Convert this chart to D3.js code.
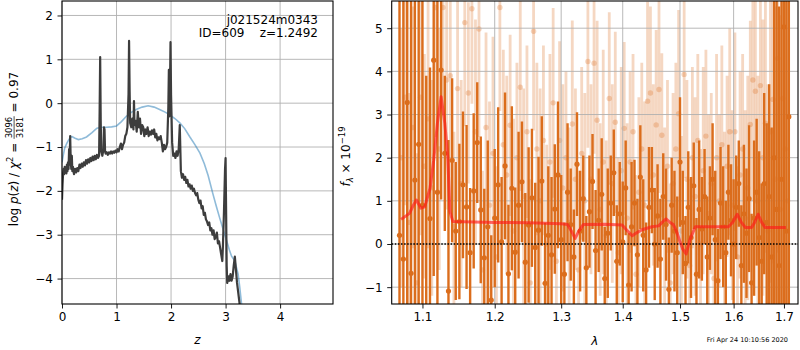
<!DOCTYPE html>
<html><head><meta charset="utf-8">
<script src="https://cdn.jsdelivr.net/npm/d3@7"></script>
<style>
body{margin:0;background:#fff}
svg text{font-family:"DejaVu Sans",sans-serif;white-space:pre}
</style>
</head><body>
<svg id="c" width="800" height="350"></svg>
<script>
// ---------------- DATA ----------------
// Left panel: log p(z)
const pzZ = [0.00,0.01,0.02,0.03,0.04,0.05,0.06,0.07,0.08,0.09,0.10,0.11,0.12,0.13,0.14,0.15,0.16,0.17,0.18,0.19,0.20,
0.22,0.24,0.26,0.28,0.30,0.32,0.34,0.36,0.38,0.40,0.42,0.44,0.46,0.48,0.50,0.52,0.54,0.56,0.58,0.60,0.62,0.64,0.66,0.68,
0.69,0.70,0.71,0.72,0.74,0.76,0.77,0.78,0.79,0.80,0.82,0.84,0.86,0.88,0.90,0.92,0.94,0.96,0.98,1.00,1.02,1.04,1.06,1.08,
1.10,1.12,1.14,1.16,1.18,1.20,1.22,1.23,1.24,1.25,1.27,1.29,1.31,1.32,1.33,1.35,1.37,1.39,1.41,1.43,1.45,1.47,1.49,1.51,
1.53,1.55,1.57,1.59,1.61,1.63,1.65,1.67,1.69,1.71,1.73,1.75,1.77,1.79,1.81,1.83,1.85,1.87,1.89,1.91,1.93,1.95,1.96,1.97,
1.98,1.99,2.00,2.02,2.04,2.06,2.08,2.10,2.12,2.14,2.16,2.18,2.20,2.22,2.24,2.26,2.28,2.30,2.32,2.34,2.36,2.38,2.40,2.42,
2.44,2.46,2.48,2.50,2.52,2.54,2.56,2.58,2.60,2.62,2.64,2.66,2.68,2.70,2.72,2.74,2.76,2.78,2.80,2.82,2.84,2.86,2.88,2.90,
2.92,2.94,2.95,2.96,2.97,2.99,3.00,3.01,3.02,3.03,3.05,3.07,3.09,3.11,3.13,3.15,3.17,3.19,3.21,3.23,3.25,3.27];
const pzLog = [-2.20,-1.85,-1.60,-1.50,-1.62,-1.45,-1.58,-1.52,-1.60,-1.40,-1.55,-1.35,-1.50,-1.05,-1.40,-0.75,-1.30,-1.50,-1.20,-1.55,-1.45,
-1.62,-1.50,-1.58,-1.48,-1.55,-1.40,-1.48,-1.38,-1.45,-1.35,-1.42,-1.30,-1.38,-1.28,-1.35,-1.25,-1.32,-1.22,-1.30,-1.20,-1.28,-1.18,-1.25,-1.20,
-0.20,1.05,-0.40,-1.10,-1.20,-1.05,-0.55,-0.60,-1.10,-1.15,-1.12,-1.18,-1.12,-1.15,-1.10,-1.15,-1.10,-1.13,-1.08,-1.12,-1.05,-1.10,-1.00,-0.92,
-1.05,-0.95,-0.90,-0.75,-0.70,-0.55,0.20,1.42,0.30,-0.45,-0.55,-0.35,-0.60,0.05,-0.50,-0.40,-0.65,-0.20,-0.55,-0.35,-0.70,-0.50,-0.55,-0.75,
-0.60,-0.70,-0.55,-0.75,-0.65,-0.72,-0.62,-0.70,-0.60,-0.78,-0.70,-0.85,-0.78,-0.82,-0.75,-0.90,-1.10,-0.95,-1.05,-1.00,-0.90,-0.10,0.76,-0.30,
0.30,1.39,0.20,-0.90,-1.20,-1.15,-1.25,-1.10,-1.20,-1.05,-0.50,-1.55,-1.70,-1.62,-1.75,-1.68,-1.82,-1.75,-1.90,-1.85,-1.95,-1.88,-2.00,-1.95,
-2.05,-2.10,-2.05,-2.20,-2.28,-2.22,-2.40,-2.35,-2.55,-2.50,-2.65,-2.70,-2.78,-2.72,-2.90,-2.85,-3.00,-2.90,-3.10,-3.05,-2.95,-3.20,-3.15,-3.30,
-3.45,-3.60,-3.30,-2.90,-2.50,-1.50,-1.25,-2.50,-3.70,-4.10,-3.95,-4.05,-3.90,-4.05,-3.95,-3.70,-3.50,-3.80,-4.10,-4.30,-4.50,-4.70];
// smooth curve (blue)
const priorZ = [0.00,0.02,0.05,0.09,0.13,0.18,0.24,0.30,0.37,0.45,0.55,0.64,0.73,0.82,0.91,1.00,1.09,1.18,1.27,1.37,1.47,1.58,1.69,1.80,1.90,1.98,
2.07,2.16,2.25,2.34,2.44,2.53,2.61,2.68,2.77,2.83,2.89,2.96,3.02,3.07,3.11,3.17,3.23,3.26,3.29,3.31];
const priorLog = [-1.35,-1.21,-1.02,-0.91,-0.82,-0.76,-0.80,-0.83,-0.81,-0.77,-0.67,-0.57,-0.55,-0.55,-0.54,-0.52,-0.42,-0.30,-0.21,-0.14,-0.09,-0.06,-0.09,-0.15,-0.21,-0.27,
-0.35,-0.45,-0.58,-0.76,-0.95,-1.14,-1.38,-1.65,-2.08,-2.35,-2.61,-2.90,-3.14,-3.35,-3.49,-3.60,-3.90,-4.20,-4.55,-4.80];

// Right panel: spectrum (units 1e-19)
const darkLam = [1.070,1.075,1.080,1.085,1.090,1.095,1.100,1.105,1.110,1.115,1.120,1.125,1.130,1.135,1.140,1.145,1.150,1.155,1.160,1.165,1.170,1.175,1.180,1.185,1.190,1.195,1.200,1.205,1.210,1.215,1.220,1.225,1.230,1.235,1.240,1.245,1.250,1.255,1.260,1.265,1.270,1.275,1.280,1.285,1.290,1.295,1.300,1.305,1.310,1.315,1.320,1.325,1.330,1.335,1.340,1.345,1.350,1.355,1.360,1.365,1.370,1.375,1.380,1.385,1.390,1.395,1.400,1.405,1.410,1.415,1.420,1.425,1.430,1.435,1.440,1.445,1.450,1.455,1.460,1.465,1.470,1.475,1.480,1.485,1.490,1.495,1.500,1.505,1.510,1.515,1.520,1.525,1.530,1.535,1.540,1.545,1.550,1.555,1.560,1.565,1.570,1.575,1.580,1.585,1.590,1.595,1.600,1.605,1.610,1.615,1.620,1.625,1.630,1.635,1.640,1.645,1.650,1.655,1.660,1.665,1.670,1.675,1.680,1.685,1.690,1.695,1.700,1.705,1.710];
const darkFlux = [0.20,-0.35,3.28,-0.68,1.48,2.31,0.90,-1.60,0.59,4.26,1.20,4.03,2.10,-1.09,
1.94,0.30,0.52,1.37,0.86,-0.20,1.23,2.35,0.79,-0.32,0.40,-1.30,0.60,1.37,0.05,1.81,
-0.69,1.29,-0.19,0.90,1.44,-0.42,0.44,1.07,-0.08,0.32,1.46,-0.91,0.20,-0.25,0.81,1.60,
0.10,-0.70,1.20,0.45,-0.30,1.85,0.30,1.05,-0.55,0.75,1.45,-0.15,0.55,1.15,-0.80,0.25,
0.95,1.65,-0.40,0.70,0.05,1.30,-0.95,0.40,0.95,-0.25,1.55,0.20,-0.60,0.85,1.25,0.00,
0.65,-0.35,1.10,0.45,-1.05,0.90,0.30,-0.20,1.90,0.50,-0.45,0.85,0.15,1.35,-0.70,0.80,
0.35,1.10,-0.30,0.60,1.50,0.10,-0.85,0.95,0.40,-0.20,1.20,0.55,0.00,0.85,1.40,-0.50,
0.70,0.25,1.05,-0.90,0.60,1.20,0.15,-0.40,1.40,0.50,1.10,-0.30,2.00,0.80,-0.50,1.50,
5.03,0.30,2.95];
const darkErr = [6.0,6.0,5.5,6.5,6.0,5.0,6.0,5.5,3.5,5.0,4.5,3.0,1.8,3.5,
1.9,1.6,1.8,1.7,1.9,1.5,1.8,1.4,1.7,1.6,2.0,1.5,1.6,1.8,1.5,1.7,
1.6,1.9,1.5,1.7,1.4,1.6,1.8,1.6,1.5,1.7,1.5,1.4,1.6,1.8,1.5,1.7,
1.5,1.2,1.6,1.3,1.1,1.2,1.4,1.0,1.2,1.3,1.1,1.4,1.2,1.3,1.2,1.5,
1.1,1.0,1.3,1.2,1.4,1.1,1.2,1.5,1.0,1.3,1.2,1.3,1.1,1.4,1.0,1.3,
1.2,1.4,1.0,1.3,1.2,1.1,1.4,1.3,1.5,1.2,1.1,1.3,1.4,1.0,1.3,1.6,
1.2,1.1,1.4,1.2,1.3,1.6,1.2,1.3,1.4,1.2,1.1,1.3,1.5,1.2,1.0,1.4,
1.6,1.5,1.7,1.6,1.8,1.7,2.0,1.8,2.1,2.3,2.6,3.0,4.5,5.0,6.0,6.0,
7.0,7.0,7.0];
const lightLam = [1.0725,1.0775,1.0825,1.0875,1.0925,1.0975,1.1025,1.1075,1.1125,1.1175,1.1225,1.1275,1.1325,1.1375,1.1425,1.1475,1.1525,1.1575,1.1625,1.1675,1.1725,1.1775,1.1825,1.1875,1.1925,1.1975,1.2025,1.2075,1.2125,1.2175,1.2225,1.2275,1.2325,1.2375,1.2425,1.2475,1.2525,1.2575,1.2625,1.2675,1.2725,1.2775,1.2825,1.2875,1.2925,1.2975,1.3025,1.3075,1.3125,1.3175,1.3225,1.3275,1.3325,1.3375,1.3425,1.3475,1.3525,1.3575,1.3625,1.3675,1.3725,1.3775,1.3825,1.3875,1.3925,1.3975,1.4025,1.4075,1.4125,1.4175,1.4225,1.4275,1.4325,1.4375,1.4425,1.4475,1.4525,1.4575,1.4625,1.4675,1.4725,1.4775,1.4825,1.4875,1.4925,1.4975,1.5025,1.5075,1.5125,1.5175,1.5225,1.5275,1.5325,1.5375,1.5425,1.5475,1.5525,1.5575,1.5625,1.5675,1.5725,1.5775,1.5825,1.5875,1.5925,1.5975,1.6025,1.6075,1.6125,1.6175,1.6225,1.6275,1.6325,1.6375,1.6425,1.6475,1.6525,1.6575,1.6625,1.6675,1.6725,1.6775,1.6825,1.6875,1.6925,1.6975,1.7025,1.7075];
const lightFlux = [2.0,3.4,0.5,2.7,-0.9,3.4,1.8,2.9,1.3,5.48,2.2,5.48,3.8,3.9,0.4,3.6,
1.4,5.13,3.5,5.45,2.6,4.98,-0.6,2.7,0.9,2.1,-0.3,5.48,2.3,1.6,2.75,0.3,
2.0,3.63,1.1,2.6,-0.9,4.93,2.2,1.0,2.4,0.0,1.9,3.27,-0.4,2.4,1.3,2.0,
0.5,2.78,1.5,-0.6,2.1,1.0,4.23,1.5,4.19,2.87,0.8,1.9,0.2,3.37,1.4,2.82,
-0.2,1.7,2.68,0.6,1.9,2.6,-0.7,1.2,2.2,0.9,3.31,3.5,1.6,2.76,3.58,2.52,
0.5,1.8,-0.9,1.4,2.2,3.02,0.3,3.93,1.5,-0.5,2.0,1.1,2.4,0.0,1.7,2.5,
0.7,1.4,-0.8,2.0,1.0,2.3,0.4,1.8,2.6,0.9,2.6,-0.3,1.6,2.2,0.6,1.3,
2.77,3.80,3.54,1.0,3.67,2.0,2.8,0.3,2.6,3.35,1.5,4.30,0.8,3.37,2.2,1.0];
const lightErr = [3.0,2.5,3.0,2.8,3.0,3.2,2.6,3.0,2.5,3.0,2.8,2.5,3.0,3.2,2.2,2.6,
2.4,2.4,2.1,2.2,2.6,2.5,2.3,2.2,2.4,2.7,2.1,2.4,2.2,2.3,2.1,2.6,
2.2,2.4,2.5,2.0,2.4,2.3,2.0,2.6,2.2,2.3,2.5,2.2,2.0,2.3,2.4,2.0,
2.2,2.4,2.1,2.3,2.0,2.5,2.0,2.2,2.1,2.3,2.0,2.6,2.2,2.0,2.3,2.1,
2.2,2.4,2.0,2.2,2.1,1.8,2.3,2.2,2.0,2.4,2.3,2.0,2.1,2.2,2.4,1.9,
2.2,2.0,2.3,2.1,2.0,2.4,2.2,2.4,2.3,2.0,2.1,2.3,2.0,2.2,2.4,2.0,
2.3,2.1,2.2,2.4,2.0,2.3,2.2,2.1,2.4,2.2,2.3,2.1,2.4,2.2,2.5,2.6,
2.4,2.8,2.6,2.9,3.0,3.2,3.0,3.4,3.5,3.8,4.0,4.5,4.5,5.0,5.0,5.0];
// model (red)
const modelLam = [1.072,1.083,1.088,1.092,1.098,1.103,1.110,1.115,1.120,1.125,1.130,1.134,1.137,1.141,1.20,1.25,1.300,1.310,1.316,1.322,1.328,1.335,1.37,1.399,1.407,1.416,1.425,1.433,1.45,1.462,1.468,1.475,1.482,1.488,1.495,1.500,1.505,1.511,1.518,1.528,1.56,1.590,1.598,1.607,1.615,1.623,1.635,1.641,1.648,1.655,1.662,1.68,1.704];
const modelFlux = [0.57,0.71,0.90,1.02,0.83,0.86,1.29,1.94,2.80,3.41,2.80,2.02,0.75,0.52,0.50,0.49,0.47,0.45,0.30,0.13,0.30,0.45,0.46,0.44,0.32,0.19,0.27,0.33,0.40,0.42,0.50,0.58,0.50,0.45,0.25,0.05,-0.12,-0.23,0.10,0.40,0.40,0.40,0.50,0.69,0.50,0.38,0.38,0.50,0.69,0.50,0.38,0.38,0.38];

// tick labels
const zTicks = [0,1,2,3,4];
const pzTicks = [-4,-3,-2,-1,0,1,2];
const lamTicks = [1.1,1.2,1.3,1.4,1.5,1.6,1.7];
const fluxTicks = [-1,0,1,2,3,4,5];

// ---------------- DRAW ----------------
const svg = d3.select("#c");
const L = {x0:62, x1:333, y0:1, y1:304};
const R = {x0:391.7, x1:798, y0:1, y1:304};

const xz = d3.scaleLinear().domain([0,4.97]).range([L.x0,L.x1]);
const yz = d3.scaleLinear().domain([-4.58,2.33]).range([L.y1,L.y0]);
const xl = d3.scaleLog().domain([1.060,1.729]).range([R.x0,R.x1]);
const yl = d3.scaleLinear().domain([-1.39,5.63]).range([R.y1,R.y0]);

const defs = svg.append("defs");
defs.append("clipPath").attr("id","clipL").append("rect").attr("x",L.x0).attr("y",L.y0).attr("width",L.x1-L.x0).attr("height",L.y1-L.y0);
defs.append("clipPath").attr("id","clipR").append("rect").attr("x",R.x0).attr("y",R.y0).attr("width",R.x1-R.x0).attr("height",R.y1-R.y0);

function grid(g, x, y, xt, yt, B){
  const gg = g.append("g").attr("stroke","#b0b0b0").attr("stroke-width",0.9);
  xt.forEach(t=>gg.append("line").attr("x1",x(t)).attr("x2",x(t)).attr("y1",B.y0).attr("y2",B.y1));
  yt.forEach(t=>gg.append("line").attr("y1",y(t)).attr("y2",y(t)).attr("x1",B.x0).attr("x2",B.x1));
}
function axes(g, x, y, xt, yt, fx, fy, B){
  const ax = g.append("g").attr("transform",`translate(0,${B.y1})`)
    .call(d3.axisBottom(x).tickValues(xt).tickFormat(fx).tickSize(4.5).tickPadding(3.5));
  const ay = g.append("g").attr("transform",`translate(${B.x0},0)`)
    .call(d3.axisLeft(y).tickValues(yt).tickFormat(fy).tickSize(4.5).tickPadding(4.5));
  [ax,ay].forEach(a=>{
    a.select(".domain").remove();
    a.attr("font-family",null).attr("font-size",null);
    a.selectAll("text").attr("font-size",12).attr("fill","#000");
    a.selectAll("line").attr("stroke","#000").attr("stroke-width",0.9);
  });
  g.append("rect").attr("x",B.x0).attr("y",B.y0).attr("width",B.x1-B.x0).attr("height",B.y1-B.y0)
    .attr("fill","none").attr("stroke","#000").attr("stroke-width",1.1);
}
const fmtMinus = d => String(d).replace("-","\u2212");

// ----- left panel -----
const gL = svg.append("g");
grid(gL, xz, yz, zTicks, pzTicks, L);
const cL = gL.append("g").attr("clip-path","url(#clipL)");
const lineZ = d3.line().x(d=>xz(d[0])).y(d=>yz(d[1]));
cL.append("path").datum(d3.zip(priorZ, priorLog)).attr("d",lineZ)
  .attr("fill","none").attr("stroke","#1f77b4").attr("stroke-opacity",0.5).attr("stroke-width",1.6);
cL.append("path").datum(d3.zip(pzZ, pzLog)).attr("d",lineZ)
  .attr("fill","none").attr("stroke","#3d3d3d").attr("stroke-width",2.2).attr("stroke-linejoin","round");
axes(gL, xz, yz, zTicks, pzTicks, d3.format("d"), fmtMinus, L);

gL.append("text").attr("x",318).attr("y",24).attr("text-anchor","end").attr("font-size",12).text("j021524m0343");
gL.append("text").attr("x",318).attr("y",37).attr("text-anchor","end").attr("font-size",12).text("ID=609    z=1.2492");
gL.append("text").attr("x",(L.x0+L.x1)/2).attr("y",344).attr("text-anchor","middle").attr("font-size",12).attr("font-style","italic").text("z");

function mathLabel(cx, cy, pieces){
  const g = svg.append("g").attr("transform",`translate(${cx},${cy}) rotate(-90)`);
  const inner = g.append("g");
  let x = 0;
  pieces.forEach(p=>{
    if(p.frac){
      const n = inner.append("text").attr("y",-5.2).attr("font-size",p.size).text(p.frac[0]);
      const d = inner.append("text").attr("y",5.2).attr("font-size",p.size).text(p.frac[1]);
      const wn = n.node().getComputedTextLength(), wd = d.node().getComputedTextLength();
      const w = Math.max(wn,wd)+1;
      n.attr("x", x + (w-wn)/2); d.attr("x", x + (w-wd)/2);
      inner.append("line").attr("x1",x).attr("x2",x+w).attr("y1",-3.4).attr("y2",-3.4).attr("stroke","#000").attr("stroke-width",0.7);
      x += w;
    } else {
      const t = inner.append("text").attr("x",x).attr("y",p.dy||0).attr("font-size",p.size||12)
        .attr("font-style",p.it?"italic":null).text(p.t);
      x += t.node().getComputedTextLength();
    }
  });
  inner.attr("transform",`translate(${-x/2},0)`);
}
mathLabel(17.5, 149, [{t:"log "},{t:"p",it:1},{t:"("},{t:"z",it:1},{t:") / "},{t:"χ",it:1},{t:"2",size:8.5,dy:-5},
  {t:" = "},{frac:["3096","3181"],size:8.5},{t:" = 0.97"}]);

// ----- right panel -----
const gR = svg.append("g");
const cR0 = gR.append("g").attr("clip-path","url(#clipR)");
const orange = "#db6d1c";
// light series
const lightData = d3.zip(lightLam, lightFlux, lightErr);
cR0.append("g").selectAll("line").data(lightData).join("line")
  .attr("x1",d=>xl(d[0])).attr("x2",d=>xl(d[0]))
  .attr("y1",d=>yl(d[1]-d[2])).attr("y2",d=>yl(d[1]+d[2]))
  .attr("stroke",orange).attr("stroke-opacity",0.27).attr("stroke-width",2.8);
cR0.append("g").selectAll("circle").data(lightData).join("circle")
  .attr("cx",d=>xl(d[0])).attr("cy",d=>yl(d[1])).attr("r",2.7)
  .attr("fill",orange).attr("fill-opacity",0.28);
grid(gR, xl, yl, lamTicks, fluxTicks, R);
const cR = gR.append("g").attr("clip-path","url(#clipR)");
const darkData = d3.zip(darkLam, darkFlux, darkErr);
cR.append("g").selectAll("line").data(darkData).join("line")
  .attr("x1",d=>xl(d[0])).attr("x2",d=>xl(d[0]))
  .attr("y1",d=>yl(d[1]-d[2])).attr("y2",d=>yl(d[1]+d[2]))
  .attr("stroke",orange).attr("stroke-width",2.4);
cR.append("g").selectAll("circle").data(darkData).join("circle")
  .attr("cx",d=>xl(d[0])).attr("cy",d=>yl(d[1])).attr("r",2.6).attr("fill",orange);
cR.append("line").attr("x1",R.x0).attr("x2",R.x1).attr("y1",yl(0)).attr("y2",yl(0))
  .attr("stroke","#000").attr("stroke-width",1.5).attr("stroke-dasharray","1.5,1.6");
cR.append("path").datum(d3.zip(modelLam, modelFlux))
  .attr("d", d3.line().x(d=>xl(d[0])).y(d=>yl(d[1])))
  .attr("fill","none").attr("stroke","#ff1a1a").attr("stroke-opacity",0.65).attr("stroke-width",3).attr("stroke-linejoin","round");
axes(gR, xl, yl, lamTicks, fluxTicks, d3.format(".1f"), fmtMinus, R);
gR.append("text").attr("x",(R.x0+R.x1)/2).attr("y",345).attr("text-anchor","middle").attr("font-size",12).attr("font-style","italic").text("λ");
mathLabel(350, 156.5, [{t:"f",it:1},{t:"λ",it:1,size:8.5,dy:3},{t:" × 10"},{t:"−19",size:8.5,dy:-5}]);

svg.append("text").attr("x",788).attr("y",342).attr("text-anchor","end").attr("font-size",6.5).text("Fri Apr 24 10:10:56 2020");
</script>
</body></html>
